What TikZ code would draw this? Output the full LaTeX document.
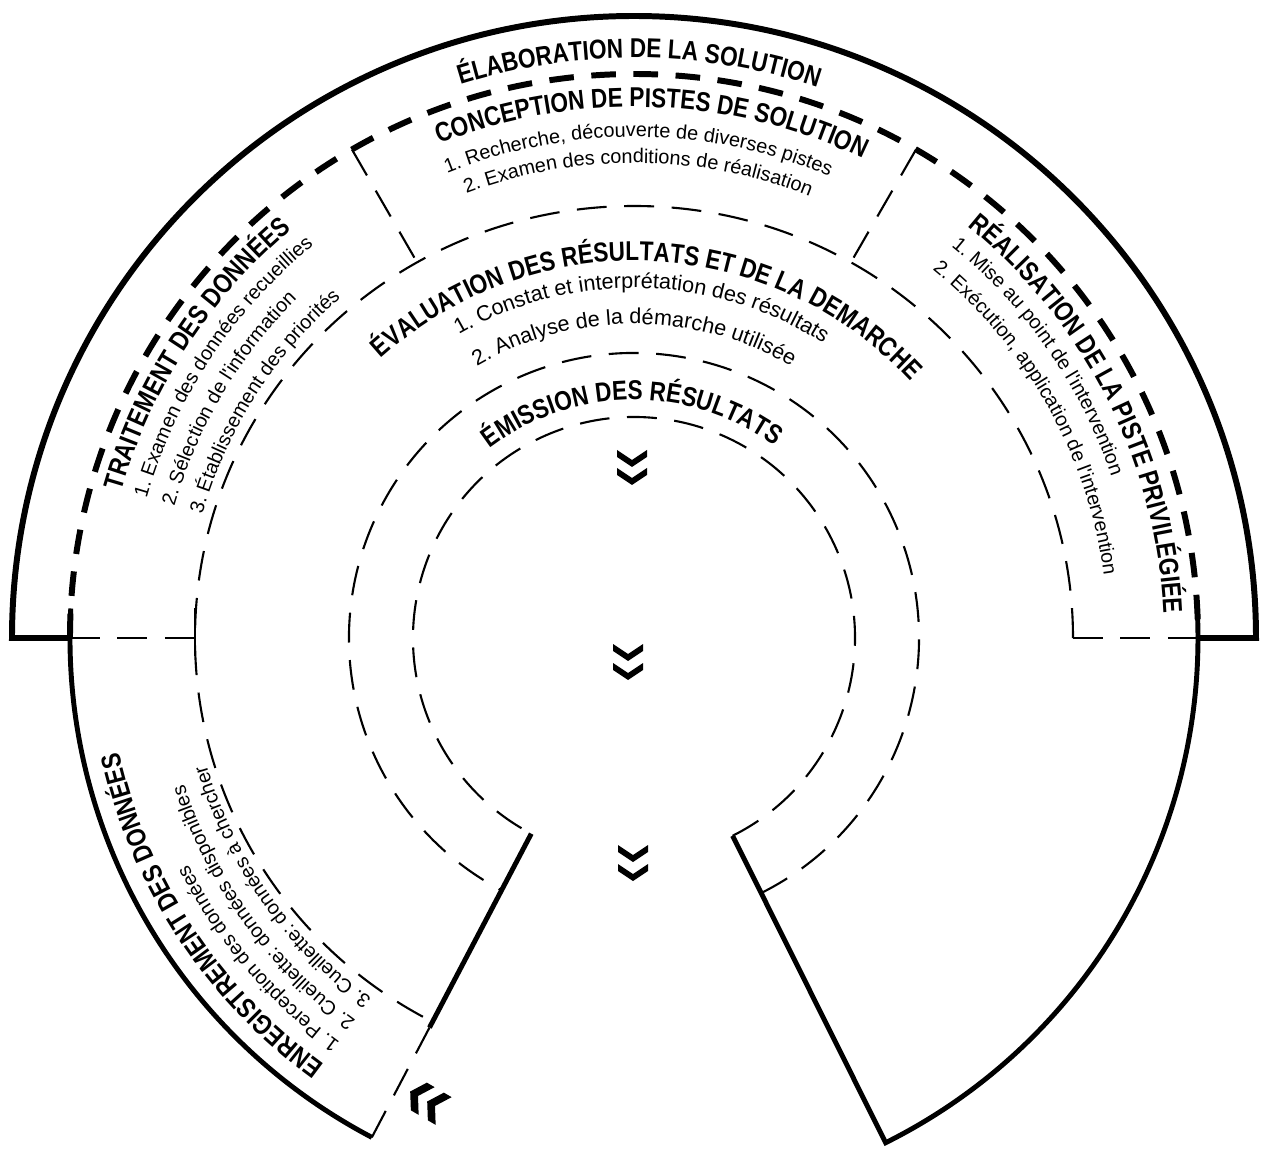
\documentclass[tikz,border=0pt]{standalone}
\usepackage{fontspec}
\newfontfamily\headfont{Liberation Sans}[FakeStretch=0.83]
\newfontfamily\bodyfont{Liberation Sans}
\usetikzlibrary{decorations.text}

\newcommand\hdf{\headfont\bfseries\fontsize{15.5}{18}\selectfont}
\newcommand\itf{\bodyfont\fontsize{11.3}{13}\selectfont}
\newcommand\itfb{\bodyfont\fontsize{12.3}{14}\selectfont}
% text on a clockwise arc: align, radius, from, to, text
\newcommand\arcline[5]{%
  \path[decorate, decoration={text along path, text align=#1, text={#5}}]
    (#3:#2) arc[start angle=#3, end angle=#4, radius=#2];}

\begin{document}
\begin{tikzpicture}[x=0.02cm, y=0.02cm, line join=miter,
  rim/.style={line width=3.4pt},
  rimdash/.style={line width=3.4pt, dash pattern=on 14pt off 10pt},
  wall/.style={line width=2.8pt},
  sep/.style={line width=1.2pt, dash pattern=on 17pt off 10pt}]
  \useasboundingbox (-634,-514) rectangle (629,638);

  % outer rim and ledges
  \draw[rim] (-564,0) -- (-622,0) arc[start angle=180, end angle=0, radius=622] -- (564,0);
  \draw[rimdash] (180:564) arc[start angle=180, end angle=0, radius=564];
  \draw[wall] (177:564) arc[start angle=177, end angle=242.3, radius=564];
  \draw[wall] (296.5:221) -- (296.5:564) arc[start angle=296.5, end angle=363.5, radius=564];
  \draw[sep] (242.3:564) -- (242.3:440);
  \draw[wall] (242.3:440) -- (242.3:221);

  % inner rings
  \draw[sep] (0:439 and 432) arc[start angle=0, end angle=242.3, x radius=439, y radius=432];
  \draw[sep] (-63.5:285) arc[start angle=-63.5, end angle=242.3, radius=285];
  \draw[sep] (-63.5:221) arc[start angle=-63.5, end angle=242.3, radius=221];

  % separators
  \draw[sep] (-564,0) -- (-439,0);
  \draw[sep] (439,0) -- (564,0);
  \draw[line width=1.2pt] (-439,-18) -- (-439,30);
  \draw[sep] (120:564) -- (120:435);
  \draw[sep] (60:564) -- (60:435);

  % flow marks
  \foreach \cx/\cy in {-2/179, -2/161, -6/-15, -6/-34, -1/-216, -1/-235}
    \fill[shift={(\cx,\cy)}] (-15,9) -- (0,-1) -- (15,9) -- (15,2) -- (0,-8) -- (-15,2) -- cycle;
  \foreach \cx/\cy in {-216/-458, -199/-468}
    \fill[shift={(\cx,\cy)}, rotate=-30] (10,16) -- (0,0) -- (10,-16) -- (1,-16) -- (-9,0) -- (1,16) -- cycle;

  % top band
  \arcline{center}{580}{149.5}{29.5}{|\hdf|ÉLABORATION DE LA SOLUTION}
  \arcline{center}{531}{148}{28}{|\hdf|CONCEPTION DE PISTES DE SOLUTION}
  \arcline{center}{501}{149.5}{29.5}{|\itf|1. Recherche, découverte de diverses pistes}
  \arcline{center}{475}{149.5}{29.5}{|\itf|2. Examen des conditions de réalisation}

  % left band
  \arcline{left}{533}{164}{110}{|\hdf|TRAITEMENT DES DONNÉES}
  \arcline{left}{507}{164}{110}{|\itf|1. Examen des données recueillies}
  \arcline{left}{478}{164}{110}{|\itf|2. Sélection de l'information}
  \arcline{left}{449}{164}{110}{|\itf|3. Établissement des priorités}

  % right band
  \arcline{left}{530}{51}{-10}{|\hdf|RÉALISATION DE LA PISTE PRIVILÉGIÉE}
  \arcline{left}{504}{51}{-10}{|\itf|1. Mise au point de l'intervention}
  \arcline{left}{474}{51}{-10}{|\itf|2. Exécution, application de l'intervention}

  % lower left band
  \arcline{left}{527}{234}{180}{|\hdf|ENREGISTREMENT DES DONNÉES}
  \arcline{left}{500}{234}{180}{|\itf|1. Perception des données}
  \arcline{left}{473}{234}{180}{|\itf|2. Cueillette: données disponibles}
  \arcline{left}{446}{234}{180}{|\itf|3. Cueillette: données à chercher}

  % middle rings
  \arcline{center}{377}{167.5}{7.5}{|\hdf|ÉVALUATION DES RÉSULTATS ET DE LA DEMARCHE}
  \arcline{left}{350}{120}{20}{|\itfb|1. Constat et interprétation des résultats}
  \arcline{left}{314}{120}{20}{|\itfb|2. Analyse de la démarche utilisée}
  \arcline{center}{238}{170.5}{10.5}{|\hdf|ÉMISSION DES RÉSULTATS}
\end{tikzpicture}
\end{document}
